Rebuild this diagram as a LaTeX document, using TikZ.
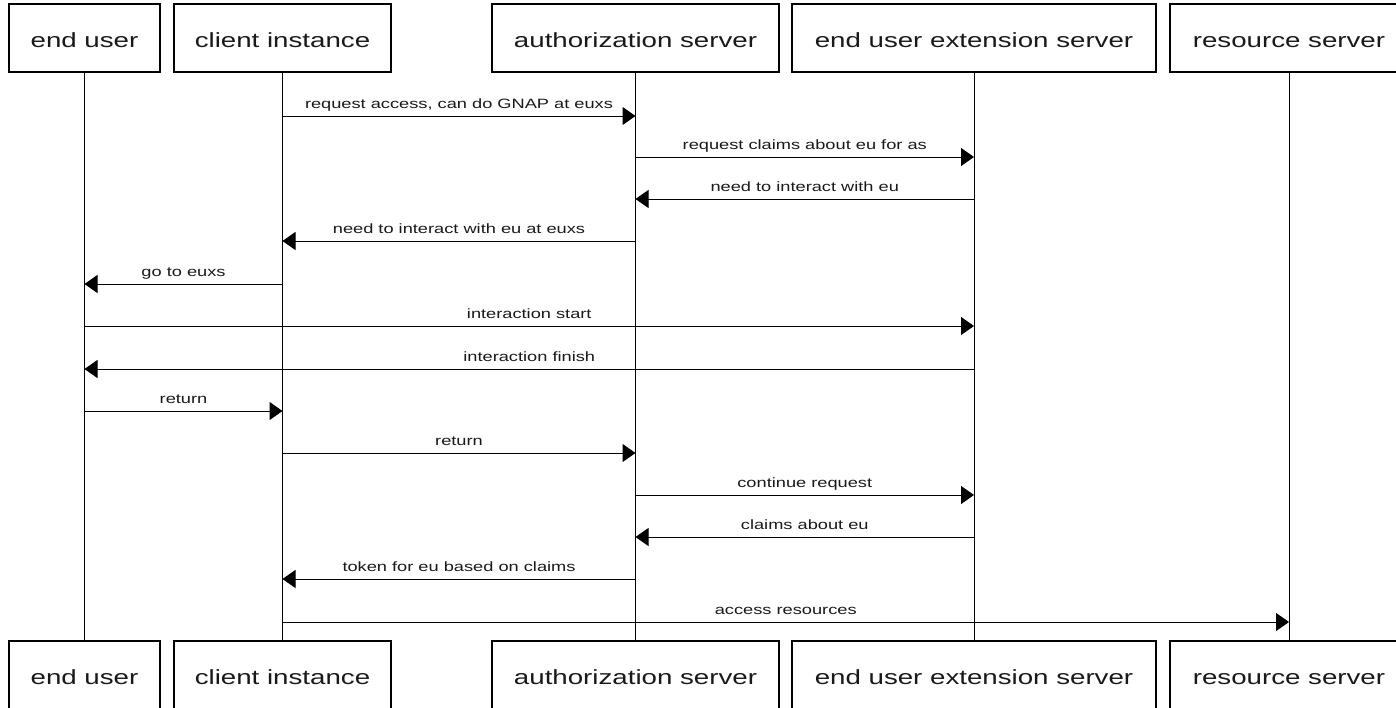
\documentclass[tikz,border=0pt]{standalone}
\usepackage{fontspec}
\setmainfont{Liberation Sans}[FakeStretch=1.35]
\usetikzlibrary{arrows.meta}
\tikzset{
  actor/.style={draw=black, line width=1.1pt, rectangle, minimum height=68pt, inner sep=0pt,
    text height=20pt, text depth=2pt,
    font=\fontsize{20.5}{24}\selectfont, text=black!90},
  lifeline/.style={draw=black, line width=1pt},
  msg/.style={draw=black, line width=1pt, -{Triangle[length=13pt,width=18pt]}},
  lbl/.style={anchor=base, inner sep=0pt, yshift=8pt, font=\fontsize{13.5}{16}\selectfont, text=black!90}
}
\newcommand{\mymsg}[4]{\draw[msg] (#1 |- 0,#3) -- node[lbl]{#4} (#2 |- 0,#3);}
\begin{document}
\begin{tikzpicture}[x=1pt,y=-1pt]
\useasboundingbox (0,0) rectangle (1396,707);
% top actors
\node[actor, minimum width=151pt] (eu) at (84.5,38) {end user};
\node[actor, minimum width=217pt] (ci) at (282.5,38) {client instance};
\node[actor, minimum width=287pt] (as) at (635.5,38) {authorization server};
\node[actor, minimum width=364pt] (ex) at (974,38) {end user extension server};
\node[actor, minimum width=238pt] (rs) at (1289,38) {resource server};
% bottom actors
\node[actor, minimum width=151pt] (eub) at (84.5,675) {end user};
\node[actor, minimum width=217pt] (cib) at (282.5,675) {client instance};
\node[actor, minimum width=287pt] (asb) at (635.5,675) {authorization server};
\node[actor, minimum width=364pt] (exb) at (974,675) {end user extension server};
\node[actor, minimum width=238pt] (rsb) at (1289,675) {resource server};
% lifelines
\draw[lifeline] (eu.south) -- (eub.north);
\draw[lifeline] (ci.south) -- (cib.north);
\draw[lifeline] (as.south) -- (asb.north);
\draw[lifeline] (ex.south) -- (exb.north);
\draw[lifeline] (rs.south) -- (rsb.north);
% messages
\mymsg{ci}{as}{116}{request access, can do GNAP at euxs}
\mymsg{as}{ex}{157}{request claims about eu for as}
\mymsg{ex}{as}{199}{need to interact with eu}
\mymsg{as}{ci}{241}{need to interact with eu at euxs}
\mymsg{ci}{eu}{284}{go to euxs}
\mymsg{eu}{ex}{326}{interaction start}
\mymsg{ex}{eu}{369}{interaction finish}
\mymsg{eu}{ci}{411}{return}
\mymsg{ci}{as}{453}{return}
\mymsg{as}{ex}{495}{continue request}
\mymsg{ex}{as}{537}{claims about eu}
\mymsg{as}{ci}{579}{token for eu based on claims}
\mymsg{ci}{rs}{622}{access resources}
\end{tikzpicture}
\end{document}
